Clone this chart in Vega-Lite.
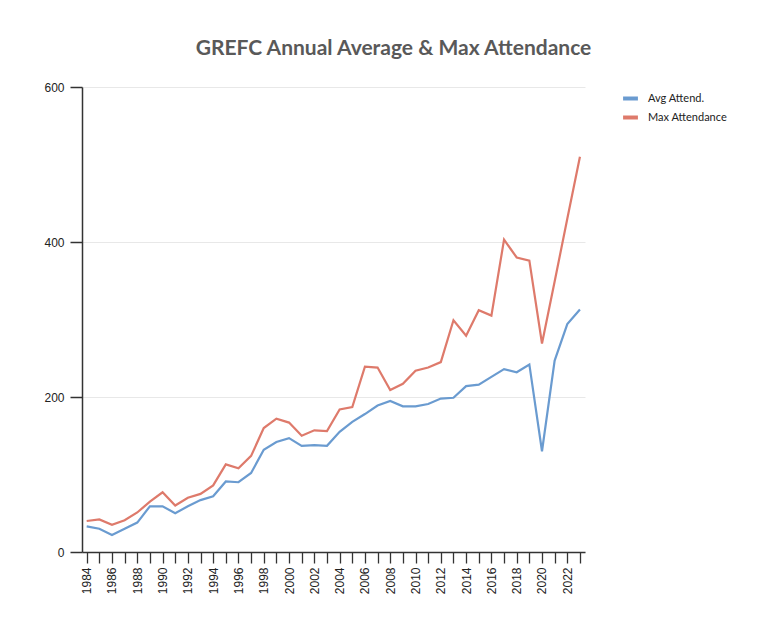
{
  "$schema": "https://vega.github.io/schema/vega-lite/v6.json",
  "width": 503,
  "height": 465,
  "autosize": {"type": "none"},
  "padding": {"left": 82, "top": 87, "right": 192, "bottom": 84},
  "background": "white",
  "title": {
    "text": "GREFC Annual Average & Max Attendance",
    "font": "Lato",
    "fontSize": 21,
    "fontWeight": "bold",
    "color": "#595959",
    "anchor": "middle",
    "dx": 60,
    "offset": 22
  },
  "config": {
    "view": {"stroke": null},
    "font": "Lato"
  },
  "datasets": {
    "att": [
      {"year": 1984, "series": "Avg Attend.", "value": 33}, {"year": 1984, "series": "Max Attendance", "value": 40},
      {"year": 1985, "series": "Avg Attend.", "value": 30}, {"year": 1985, "series": "Max Attendance", "value": 42},
      {"year": 1986, "series": "Avg Attend.", "value": 22}, {"year": 1986, "series": "Max Attendance", "value": 35},
      {"year": 1987, "series": "Avg Attend.", "value": 30}, {"year": 1987, "series": "Max Attendance", "value": 41},
      {"year": 1988, "series": "Avg Attend.", "value": 38}, {"year": 1988, "series": "Max Attendance", "value": 51},
      {"year": 1989, "series": "Avg Attend.", "value": 59}, {"year": 1989, "series": "Max Attendance", "value": 65},
      {"year": 1990, "series": "Avg Attend.", "value": 59}, {"year": 1990, "series": "Max Attendance", "value": 77},
      {"year": 1991, "series": "Avg Attend.", "value": 50}, {"year": 1991, "series": "Max Attendance", "value": 60},
      {"year": 1992, "series": "Avg Attend.", "value": 59}, {"year": 1992, "series": "Max Attendance", "value": 70},
      {"year": 1993, "series": "Avg Attend.", "value": 67}, {"year": 1993, "series": "Max Attendance", "value": 75},
      {"year": 1994, "series": "Avg Attend.", "value": 72}, {"year": 1994, "series": "Max Attendance", "value": 86},
      {"year": 1995, "series": "Avg Attend.", "value": 91}, {"year": 1995, "series": "Max Attendance", "value": 113},
      {"year": 1996, "series": "Avg Attend.", "value": 90}, {"year": 1996, "series": "Max Attendance", "value": 108},
      {"year": 1997, "series": "Avg Attend.", "value": 102}, {"year": 1997, "series": "Max Attendance", "value": 124},
      {"year": 1998, "series": "Avg Attend.", "value": 132}, {"year": 1998, "series": "Max Attendance", "value": 160},
      {"year": 1999, "series": "Avg Attend.", "value": 142}, {"year": 1999, "series": "Max Attendance", "value": 172},
      {"year": 2000, "series": "Avg Attend.", "value": 147}, {"year": 2000, "series": "Max Attendance", "value": 167},
      {"year": 2001, "series": "Avg Attend.", "value": 137}, {"year": 2001, "series": "Max Attendance", "value": 150},
      {"year": 2002, "series": "Avg Attend.", "value": 138}, {"year": 2002, "series": "Max Attendance", "value": 157},
      {"year": 2003, "series": "Avg Attend.", "value": 137}, {"year": 2003, "series": "Max Attendance", "value": 156},
      {"year": 2004, "series": "Avg Attend.", "value": 155}, {"year": 2004, "series": "Max Attendance", "value": 184},
      {"year": 2005, "series": "Avg Attend.", "value": 168}, {"year": 2005, "series": "Max Attendance", "value": 187},
      {"year": 2006, "series": "Avg Attend.", "value": 178}, {"year": 2006, "series": "Max Attendance", "value": 239},
      {"year": 2007, "series": "Avg Attend.", "value": 189}, {"year": 2007, "series": "Max Attendance", "value": 238},
      {"year": 2008, "series": "Avg Attend.", "value": 195}, {"year": 2008, "series": "Max Attendance", "value": 209},
      {"year": 2009, "series": "Avg Attend.", "value": 188}, {"year": 2009, "series": "Max Attendance", "value": 217},
      {"year": 2010, "series": "Avg Attend.", "value": 188}, {"year": 2010, "series": "Max Attendance", "value": 234},
      {"year": 2011, "series": "Avg Attend.", "value": 191}, {"year": 2011, "series": "Max Attendance", "value": 238},
      {"year": 2012, "series": "Avg Attend.", "value": 198}, {"year": 2012, "series": "Max Attendance", "value": 245},
      {"year": 2013, "series": "Avg Attend.", "value": 199}, {"year": 2013, "series": "Max Attendance", "value": 299},
      {"year": 2014, "series": "Avg Attend.", "value": 214}, {"year": 2014, "series": "Max Attendance", "value": 279},
      {"year": 2015, "series": "Avg Attend.", "value": 216}, {"year": 2015, "series": "Max Attendance", "value": 312},
      {"year": 2016, "series": "Avg Attend.", "value": 226}, {"year": 2016, "series": "Max Attendance", "value": 305},
      {"year": 2017, "series": "Avg Attend.", "value": 236}, {"year": 2017, "series": "Max Attendance", "value": 403},
      {"year": 2018, "series": "Avg Attend.", "value": 232}, {"year": 2018, "series": "Max Attendance", "value": 380},
      {"year": 2019, "series": "Avg Attend.", "value": 242}, {"year": 2019, "series": "Max Attendance", "value": 376},
      {"year": 2020, "series": "Avg Attend.", "value": 130}, {"year": 2020, "series": "Max Attendance", "value": 269},
      {"year": 2021, "series": "Avg Attend.", "value": 247}, {"year": 2021, "series": "Max Attendance", "value": 349},
      {"year": 2022, "series": "Avg Attend.", "value": 294}, {"year": 2022, "series": "Max Attendance", "value": 430},
      {"year": 2023, "series": "Avg Attend.", "value": 313}, {"year": 2023, "series": "Max Attendance", "value": 510}
    ]
  },
  "data": {"name": "att"},
  "mark": {"type": "line", "strokeWidth": 2.2},
  "encoding": {
    "x": {
      "field": "year",
      "type": "quantitative",
      "scale": {"domain": [1983.63, 2023.4], "nice": false, "zero": false},
      "axis": {
        "title": null,
        "values": [1984,1985,1986,1987,1988,1989,1990,1991,1992,1993,1994,1995,1996,1997,1998,1999,2000,2001,2002,2003,2004,2005,2006,2007,2008,2009,2010,2011,2012,2013,2014,2015,2016,2017,2018,2019,2020,2021,2022,2023],
        "labelExpr": "datum.value % 2 == 0 ? datum.label : ''",
        "format": "d",
        "labelAngle": -90,
        "labelAlign": "right",
        "labelBaseline": "middle",
        "labelOverlap": false,
        "labelFontSize": 12,
        "labelColor": "#222222",
        "labelPadding": 4,
        "labelFont": "Liberation Sans",
        "tickColor": "#333333",
        "tickSize": 11,
        "tickWidth": 1.3,
        "domainColor": "#333333",
        "domainWidth": 1.5,
        "grid": false
      }
    },
    "y": {
      "field": "value",
      "type": "quantitative",
      "scale": {"domain": [0, 600], "nice": false},
      "axis": {
        "title": null,
        "values": [0, 200, 400, 600],
        "labelFontSize": 12,
        "labelColor": "#222222",
        "labelFont": "Liberation Sans",
        "labelPadding": 6,
        "tickColor": "#333333",
        "tickSize": 12,
        "tickWidth": 1.5,
        "domainColor": "#333333",
        "domainWidth": 1.5,
        "grid": true,
        "gridColor": "#e8e8e8",
        "gridWidth": 1
      }
    },
    "color": {
      "field": "series",
      "type": "nominal",
      "scale": {"domain": ["Avg Attend.", "Max Attendance"], "range": ["#6a9bd0", "#de7a6b"]},
      "legend": {
        "title": null,
        "orient": "none",
        "legendX": 539,
        "legendY": 2,
        "symbolType": "stroke",
        "symbolStrokeWidth": 4,
        "symbolSize": 220,
        "labelFontSize": 11,
        "labelFont": "Lato",
        "labelColor": "#222222",
        "rowPadding": 1,
        "labelOffset": 8
      }
    }
  }
}
